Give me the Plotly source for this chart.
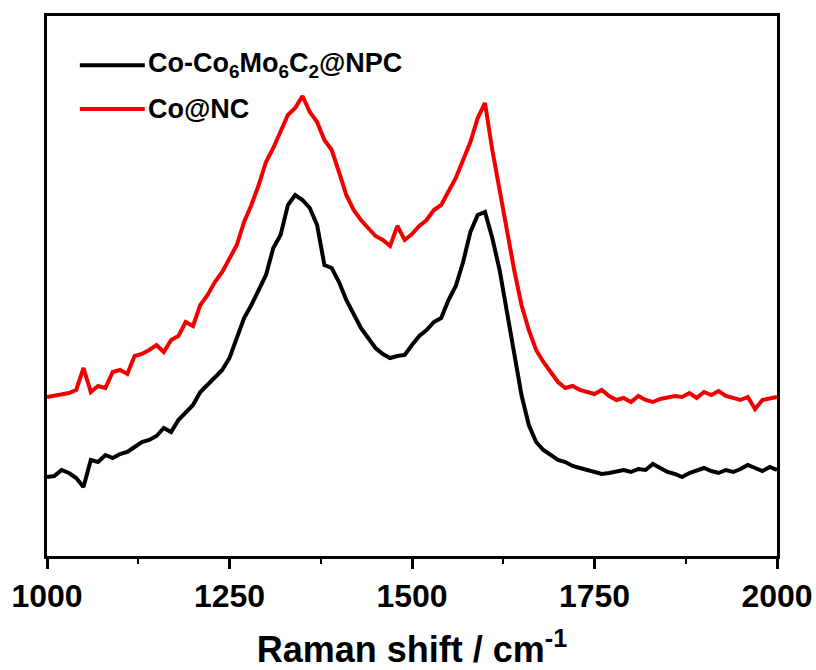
import plotly.graph_objects as go

# Raman shift (cm-1)
shift = list(range(1000, 2001, 10))

# Intensities (a.u.)
co_co6mo6c2_npc = [
    79, 80, 86, 83, 78, 69, 96, 94, 101, 98,
    102, 104, 109, 114, 116, 120, 128, 124, 136, 144,
    151, 164, 171, 178, 186, 198, 218, 238, 251, 266,
    281, 308, 321, 351, 361, 356, 348, 331, 291, 288,
    274, 256, 241, 228, 218, 208, 202, 198, 200, 201,
    211, 220, 226, 234, 238, 256, 270, 294, 324, 341,
    344, 318, 286, 246, 201, 161, 131, 114, 106, 101,
    96, 94, 90, 88, 86, 84, 82, 83, 85, 86,
    84, 87, 86, 92, 88, 84, 82, 79, 83, 86,
    88, 85, 83, 86, 84, 87, 91, 88, 85, 89,
    86,
]
co_nc = [
    159, 160, 162, 163, 166, 188, 164, 170, 168, 184,
    186, 182, 200, 202, 206, 211, 204, 216, 220, 234,
    230, 251, 261, 274, 284, 298, 311, 334, 351, 371,
    394, 408, 424, 441, 448, 460, 444, 434, 416, 406,
    384, 361, 346, 336, 328, 320, 316, 310, 330, 316,
    322, 330, 336, 346, 351, 364, 378, 396, 414, 438,
    453, 406, 366, 321, 286, 251, 226, 206, 194, 184,
    174, 168, 170, 166, 164, 162, 166, 160, 156, 158,
    154, 160, 156, 154, 157, 158, 160, 159, 163, 158,
    164, 161, 165, 160, 158, 156, 159, 147, 156, 157,
    159,
]

series_names = ["Co-Co<sub>6</sub>Mo<sub>6</sub>C<sub>2</sub>@NPC", "Co@NC"]
series_colors = ["#000000", "#f20000"]

x_ticks = [1000, 1250, 1500, 1750, 2000]

fig = go.Figure()
for vals, name, col in zip([co_co6mo6c2_npc, co_nc], series_names, series_colors):
    fig.add_trace(go.Scatter(x=shift, y=vals, mode="lines", name=name,
                             line=dict(color=col, width=4), showlegend=False))

# manual legend (long line samples like the original)
leg_y = [0.909, 0.828]
for yy, name, col in zip(leg_y, series_names, series_colors):
    fig.add_shape(type="line", xref="paper", yref="paper",
                  x0=0.045, x1=0.134, y0=yy, y1=yy,
                  line=dict(color=col, width=4))
    fig.add_annotation(xref="paper", yref="paper", x=0.136, y=yy,
                       xanchor="left", yanchor="middle", text=name, showarrow=False,
                       font=dict(family="Liberation Sans, Arial, sans-serif", size=27,
                                 color="#000000", weight="bold"))

fig.update_layout(
    width=816, height=670,
    margin=dict(l=47, r=39, t=16, b=114, autoexpand=False),
    paper_bgcolor="white", plot_bgcolor="white",
    xaxis=dict(
        range=[1000, 2000], tickvals=x_ticks, ticks="outside", ticklen=10, tickwidth=3,
        tickcolor="black", showline=True, linewidth=3, linecolor="black", mirror=True,
        showgrid=False, zeroline=False, ticklabeloverflow="allow", automargin=False,
        minor=dict(dtick=125, tick0=1000, ticks="outside", ticklen=5, tickwidth=2, tickcolor="black"),
        tickfont=dict(family="Liberation Sans, Arial, sans-serif", size=32,
                      color="black", weight="bold"),
        title=dict(text="Raman shift / cm<sup>-1</sup>", standoff=29,
                   font=dict(family="Liberation Sans, Arial, sans-serif", size=36,
                             color="black", weight="bold")),
    ),
    yaxis=dict(
        range=[0, 540], showticklabels=False, ticks="", showline=True, linewidth=3,
        linecolor="black", mirror=True, showgrid=False, zeroline=False, automargin=False,
    ),
)

fig.write_html("out.html")
